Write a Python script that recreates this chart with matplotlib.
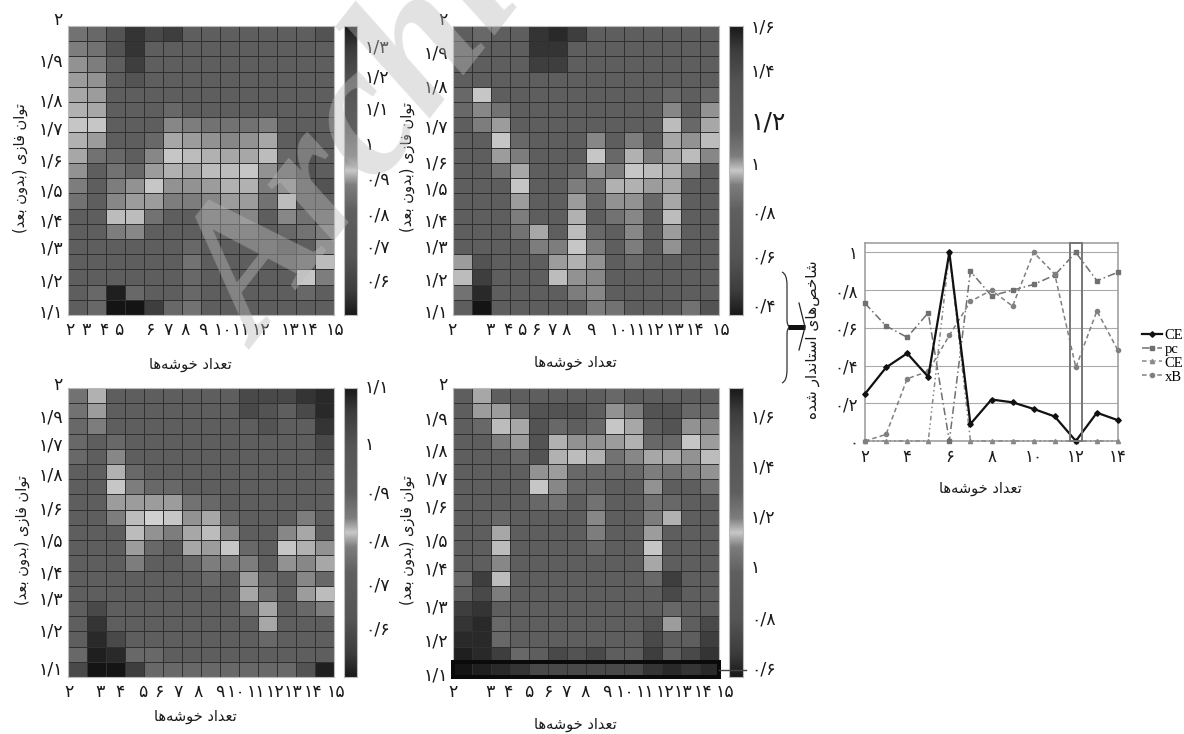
import numpy as np
import matplotlib
matplotlib.use('Agg')
import matplotlib.pyplot as plt
from matplotlib.colors import LinearSegmentedColormap
from matplotlib.lines import Line2D
from matplotlib.patches import PathPatch, Rectangle
from matplotlib.path import Path

W, H = 1184, 734

# cell shades (gray level / 10), top row first
shades_a = [
    [11, 10, 8, 5, 7, 6, 9, 9, 9, 9, 9, 9, 9, 8],
    [12, 11, 8, 5, 9, 9, 9, 9, 9, 9, 9, 9, 9, 9],
    [14, 12, 9, 6, 9, 9, 9, 9, 9, 9, 9, 9, 9, 9],
    [15, 14, 9, 8, 9, 9, 9, 9, 9, 9, 9, 9, 9, 9],
    [16, 15, 9, 9, 9, 9, 9, 9, 9, 9, 9, 9, 9, 9],
    [17, 16, 9, 9, 9, 10, 9, 9, 9, 9, 9, 9, 9, 9],
    [19, 19, 9, 9, 9, 13, 12, 11, 11, 11, 12, 9, 9, 9],
    [17, 15, 9, 9, 10, 16, 15, 14, 13, 14, 16, 9, 8, 9],
    [16, 11, 10, 9, 13, 19, 18, 17, 16, 16, 18, 10, 8, 9],
    [14, 9, 11, 10, 15, 17, 16, 18, 18, 19, 14, 10, 8, 9],
    [12, 9, 12, 14, 19, 14, 14, 15, 17, 17, 12, 14, 9, 8],
    [11, 9, 13, 15, 15, 12, 12, 13, 15, 15, 11, 18, 9, 9],
    [9, 9, 18, 18, 11, 9, 9, 11, 11, 13, 9, 13, 11, 10],
    [9, 9, 12, 13, 9, 9, 9, 10, 10, 10, 9, 10, 11, 12],
    [9, 9, 9, 9, 9, 9, 10, 9, 9, 9, 9, 8, 9, 14],
    [9, 9, 9, 9, 9, 9, 11, 9, 9, 9, 9, 9, 10, 18],
    [9, 9, 9, 9, 9, 9, 10, 9, 9, 9, 9, 9, 19, 12],
    [9, 10, 3, 10, 9, 9, 10, 9, 9, 9, 9, 9, 10, 9],
    [9, 10, 2, 2, 6, 10, 11, 9, 9, 9, 9, 9, 9, 9],
]
shades_b = [
    [9, 10, 9, 9, 5, 4, 6, 9, 9, 9, 9, 9, 9, 9],
    [9, 9, 9, 9, 5, 5, 9, 9, 9, 9, 9, 9, 9, 9],
    [9, 9, 9, 9, 6, 6, 9, 9, 9, 9, 9, 9, 9, 9],
    [9, 9, 9, 9, 9, 9, 9, 9, 9, 9, 9, 9, 9, 9],
    [10, 19, 9, 9, 9, 9, 9, 9, 9, 9, 9, 10, 9, 10],
    [10, 13, 11, 9, 9, 9, 9, 9, 9, 9, 9, 13, 9, 14],
    [9, 12, 15, 9, 9, 9, 9, 9, 9, 9, 9, 18, 10, 16],
    [9, 9, 19, 10, 9, 9, 9, 13, 9, 12, 9, 16, 14, 18],
    [9, 9, 15, 12, 9, 9, 9, 19, 10, 17, 12, 16, 18, 13],
    [9, 9, 11, 16, 9, 9, 10, 14, 12, 19, 18, 17, 12, 9],
    [9, 9, 9, 19, 9, 9, 12, 11, 17, 17, 15, 16, 9, 9],
    [9, 9, 9, 15, 9, 9, 15, 10, 14, 14, 10, 16, 9, 9],
    [9, 9, 9, 12, 9, 9, 17, 9, 11, 13, 9, 18, 9, 9],
    [9, 9, 9, 11, 16, 9, 18, 10, 9, 13, 9, 15, 9, 9],
    [9, 9, 9, 9, 12, 12, 19, 12, 9, 12, 9, 14, 9, 9],
    [15, 8, 9, 9, 9, 15, 17, 14, 9, 10, 9, 9, 9, 9],
    [18, 6, 9, 9, 9, 18, 14, 13, 9, 9, 9, 9, 9, 9],
    [11, 4, 9, 9, 9, 9, 12, 13, 9, 9, 9, 9, 9, 9],
    [9, 2, 9, 9, 9, 9, 9, 12, 11, 9, 9, 9, 11, 8],
]
shades_c = [
    [11, 17, 9, 9, 9, 9, 9, 9, 9, 7, 7, 7, 5, 4],
    [11, 15, 9, 9, 9, 9, 9, 9, 9, 7, 8, 9, 7, 4],
    [10, 12, 9, 9, 9, 9, 9, 9, 9, 9, 8, 9, 9, 5],
    [10, 9, 10, 9, 9, 9, 9, 9, 9, 9, 9, 9, 9, 7],
    [10, 9, 13, 9, 9, 9, 9, 9, 9, 9, 9, 9, 9, 8],
    [9, 9, 17, 10, 9, 9, 9, 9, 9, 9, 9, 9, 9, 9],
    [9, 9, 19, 12, 10, 10, 9, 9, 9, 9, 9, 9, 9, 9],
    [9, 9, 15, 15, 15, 15, 11, 10, 9, 9, 9, 9, 9, 9],
    [9, 9, 12, 18, 20, 19, 14, 16, 10, 9, 9, 9, 12, 9],
    [9, 9, 9, 18, 14, 12, 16, 18, 13, 9, 9, 13, 16, 9],
    [9, 9, 9, 15, 10, 9, 16, 15, 19, 10, 9, 19, 17, 14],
    [9, 9, 9, 12, 9, 9, 10, 12, 12, 12, 9, 14, 13, 16],
    [9, 9, 9, 9, 9, 9, 9, 10, 9, 15, 10, 9, 13, 10],
    [9, 9, 9, 9, 9, 9, 9, 9, 9, 16, 11, 9, 15, 18],
    [9, 7, 9, 9, 9, 9, 9, 9, 9, 11, 16, 9, 10, 12],
    [9, 5, 9, 9, 9, 9, 9, 9, 9, 9, 16, 9, 9, 9],
    [9, 4, 7, 9, 9, 9, 9, 9, 9, 9, 10, 9, 9, 9],
    [10, 3, 4, 10, 10, 9, 9, 9, 9, 9, 9, 9, 9, 9],
    [7, 2, 2, 6, 10, 10, 10, 10, 10, 10, 10, 10, 8, 3],
]
shades_d = [
    [9, 16, 9, 9, 9, 9, 9, 9, 10, 9, 9, 9, 9, 9],
    [9, 15, 15, 10, 8, 8, 8, 9, 14, 12, 8, 8, 10, 10],
    [9, 10, 18, 16, 8, 10, 9, 10, 19, 16, 9, 8, 14, 13],
    [9, 9, 12, 15, 8, 17, 14, 14, 15, 17, 10, 10, 19, 15],
    [9, 9, 9, 10, 8, 17, 18, 17, 11, 13, 16, 16, 14, 18],
    [9, 9, 9, 9, 14, 15, 10, 10, 10, 10, 12, 11, 12, 14],
    [9, 9, 9, 9, 19, 13, 10, 10, 9, 9, 14, 9, 9, 11],
    [9, 9, 9, 9, 10, 11, 9, 11, 9, 9, 11, 10, 9, 9],
    [9, 9, 10, 9, 9, 9, 9, 13, 9, 9, 12, 17, 9, 9],
    [9, 9, 16, 9, 9, 9, 9, 12, 9, 9, 15, 9, 9, 9],
    [9, 9, 18, 9, 9, 9, 9, 10, 9, 9, 19, 9, 9, 9],
    [9, 9, 13, 9, 9, 9, 9, 9, 9, 9, 16, 9, 9, 9],
    [10, 6, 18, 9, 9, 9, 9, 9, 9, 9, 10, 6, 9, 9],
    [9, 7, 12, 9, 9, 9, 9, 9, 9, 9, 9, 7, 9, 9],
    [6, 5, 9, 9, 9, 9, 9, 9, 9, 9, 9, 10, 9, 9],
    [5, 4, 10, 9, 9, 9, 9, 9, 9, 9, 8, 15, 9, 7],
    [4, 4, 10, 9, 9, 9, 9, 9, 9, 9, 7, 9, 9, 6],
    [3, 4, 6, 10, 9, 7, 8, 7, 9, 9, 6, 9, 7, 5],
    [2, 3, 4, 5, 7, 7, 7, 7, 7, 7, 5, 4, 5, 4],
]

cluster_labels = ['۲', '۳', '۴', '۵', '۶', '۷', '۸', '۹', '۱۰', '۱۱', '۱۲', '۱۳', '۱۴', '۱۵']
y_labels_a = ['۲', '۱/۹', '۱/۸', '۱/۷', '۱/۶', '۱/۵', '۱/۴', '۱/۳', '۱/۲', '۱/۱']
y_labels_c = ['۲', '۱/۹', '۱/۷', '۱/۸', '۱/۶', '۱/۵', '۱/۴', '۱/۳', '۱/۲', '۱/۱']

cbar_labels_a = ['۱/۳', '۱/۲', '۱/۱', '۱', '۰/۹', '۰/۸', '۰/۷', '۰/۶']
cbar_labels_b = ['۱/۶', '۱/۴', '۱/۲', '۱', '۰/۸', '۰/۶', '۰/۴']
cbar_labels_c = ['۱/۱', '۱', '۰/۹', '۰/۸', '۰/۷', '۰/۶']
cbar_labels_d = ['۱/۶', '۱/۴', '۱/۲', '۱', '۰/۸', '۰/۶']

cbar_stops = [0, .08, .2, .36, .45, .5, .55, .64, .8, .92, 1]
cbar_grays = [25, 60, 85, 95, 125, 200, 125, 95, 85, 60, 25]

k_values = [2, 3, 4, 5, 6, 7, 8, 9, 10, 11, 12, 13, 14]
ce_values = [.25, .39, .465, .34, 1, .09, .22, .205, .17, .13, 0, .15, .11]
pc_values = [.73, .61, .55, .68, 0, .90, .77, .80, .83, .88, 1, .85, .895]
ce2_values = [0, 0, 0, 0, 1, 0, 0, 0, 0, 0, 0, 0, 0]
xb_values = [0, .035, .33, .37, .56, .74, .80, .715, 1, .885, .39, .69, .48]

JOIN_FORMS = {
    'ا': (0xFE8D, 0xFE8E), 'د': (0xFEA9, 0xFEAA), 'ر': (0xFEAD, 0xFEAE),
    'ز': (0xFEAF, 0xFEB0), 'و': (0xFEED, 0xFEEE),
    'ب': (0xFE8F, 0xFE90, 0xFE91, 0xFE92), 'ت': (0xFE95, 0xFE96, 0xFE97, 0xFE98),
    'خ': (0xFEA5, 0xFEA6, 0xFEA7, 0xFEA8), 'س': (0xFEB1, 0xFEB2, 0xFEB3, 0xFEB4),
    'ش': (0xFEB5, 0xFEB6, 0xFEB7, 0xFEB8), 'ص': (0xFEB9, 0xFEBA, 0xFEBB, 0xFEBC),
    'ع': (0xFEC9, 0xFECA, 0xFECB, 0xFECC), 'ف': (0xFED1, 0xFED2, 0xFED3, 0xFED4),
    'ن': (0xFEE5, 0xFEE6, 0xFEE7, 0xFEE8), 'ه': (0xFEE9, 0xFEEA, 0xFEEB, 0xFEEC),
    'ی': (0xFBFC, 0xFBFD, 0xFBFE, 0xFBFF),
}
MIRROR = {'(': ')', ')': '('}


def fa(text):
    # matplotlib has no shaping, so build the visual order by hand
    out = []
    for i, ch in enumerate(text):
        if ch == '\u200c':
            continue
        if ch not in JOIN_FORMS:
            out.append(MIRROR.get(ch, ch))
            continue
        forms = JOIN_FORMS[ch]
        prev = text[i - 1] if i > 0 else ''
        nxt = text[i + 1] if i + 1 < len(text) else ''
        after_joiner = prev in JOIN_FORMS and len(JOIN_FORMS[prev]) == 4
        before_letter = nxt in JOIN_FORMS and len(forms) == 4
        if after_joiner and before_letter:
            code = forms[3]
        elif before_letter:
            code = forms[2]
        elif after_joiner:
            code = forms[1]
        else:
            code = forms[0]
        out.append(chr(code))
    return ''.join(reversed(out))


def fx(x):
    return x / W


def fy(y):
    return 1 - y / H


def add_px_axes(x0, y0, x1, y1):
    return fig.add_axes([fx(x0), fy(y1), (x1 - x0) / W, (y1 - y0) / H])


def px_text(x, y, s, **kw):
    kw.setdefault('ha', 'center')
    kw.setdefault('va', 'center')
    kw.setdefault('color', '#1a1a1a')
    fig.text(fx(x), fy(y), s, **kw)


def heat_panel(x0, y0, x1, y1, cx0, cx1, shades, xpos, y_labels, ypos, cb_labels, cb_pos, big_tick=None):
    ax = add_px_axes(x0, y0, x1, y1)
    ax.pcolormesh(np.array(shades), cmap='gray', vmin=0, vmax=24.5,
                  edgecolors='#303030', linewidth=0.6)
    ax.set_xlim(0, 14)
    ax.set_ylim(19, 0)
    ax.set_xticks([])
    ax.set_yticks([])
    for s in ax.spines.values():
        s.set_color('#bbbbbb')
        s.set_linewidth(0.8)
    for p, lab in zip(xpos, cluster_labels):
        px_text(x0 + p / 3, y1 + 15, lab, fontsize=12.5)
    for p, lab in zip(ypos, y_labels):
        px_text(x0 - 5, p, lab, fontsize=12.5, ha='right')

    cax = add_px_axes(cx0, y0, cx1, y1)
    grad = LinearSegmentedColormap.from_list(
        'bar', [(s, (g / 255, g / 255, g / 255)) for s, g in zip(cbar_stops, cbar_grays)])
    cax.imshow(np.linspace(0, 1, 256)[:, None], cmap=grad, aspect='auto', extent=(0, 1, 1, 0))
    cax.set_xticks([])
    cax.set_yticks([])
    for s in cax.spines.values():
        s.set_color('#bbbbbb')
    for p, lab in zip(cb_pos, cb_labels):
        size = 18 if lab == big_tick else 12.5
        px_text(cx1 + 8, p, lab, fontsize=size, ha='left')
    return ax


fig = plt.figure(figsize=(W / 100, H / 100), dpi=100)

xpos_a = [7, 55, 107, 153, 245, 300, 350, 403, 465, 520, 580, 665, 723, 800]
xpos_b = [-2, 110, 165, 205, 248, 297, 340, 413, 497, 552, 607, 667, 727, 805]
xpos_c = [3, 97, 155, 223, 273, 330, 390, 455, 505, 565, 620, 675, 735, 805]
xpos_d = [0, 112, 165, 228, 285, 340, 395, 460, 515, 575, 635, 690, 750, 815]

y_px_a = [20, 62, 101, 129, 161, 192, 222, 249, 282, 312]
y_px_b = [20, 53, 87, 127, 163, 190, 221, 248, 281, 312]
y_px_c = [385, 417, 445, 476, 509, 542, 573, 600, 632, 670]
y_px_d = [385, 419, 452, 480, 508, 541, 570, 608, 642, 675]

cb_a = [48, 78, 110, 145, 180, 215, 247, 282]
cb_b = [27, 72, 122, 165, 213, 258, 306]
cb_c = [388, 445, 493, 541, 585, 630]
cb_d = [417, 468, 517, 568, 620, 670]

heat_panel(68, 26, 334, 315, 344, 357, shades_a, xpos_a, y_labels_a, y_px_a, cbar_labels_a, cb_a)
heat_panel(453, 26, 719, 315, 729, 743, shades_b, xpos_b, y_labels_a, y_px_b, cbar_labels_b, cb_b, big_tick='۱/۲')
heat_panel(68, 388, 334, 677, 344, 357, shades_c, xpos_c, y_labels_c, y_px_c, cbar_labels_c, cb_c)
ax_d = heat_panel(453, 388, 719, 677, 729, 743, shades_d, xpos_d, y_labels_a, y_px_d, cbar_labels_d, cb_d)

# black frame round the bottom row of the last map
ax_d.add_patch(Rectangle((0, 18), 14, 1, fill=False, edgecolor='#0a0a0a', linewidth=2.9, clip_on=False, zorder=5))
fig.add_artist(Line2D([fx(719), fx(746)], [fy(669.5), fy(669.5)], color='#444444', linewidth=1))

x_title = fa('تعداد خوشه‌ها')
y_title = fa('توان فازی (بدون بعد)')
for (x, y) in [(190, 364), (575, 363), (195, 716), (575, 725)]:
    px_text(x, y, x_title, fontsize=10.5)
for (x, y) in [(20, 168), (407, 167), (22, 540), (407, 540)]:
    px_text(x, y, y_title, fontsize=10.5, rotation=90)

# index chart
ax = add_px_axes(865, 243, 1118, 441)
ax.plot(k_values, pc_values, color='#707070', linestyle=(0, (5, 2, 1, 2)), linewidth=1.1,
        marker='s', markersize=3.5, label='pc', zorder=3, clip_on=False)
ax.plot(k_values, ce2_values, color='#888888', linestyle=(0, (3, 2, 1, 2, 1, 2)), linewidth=1.1,
        marker='^', markersize=3, label='CE', zorder=3, clip_on=False)
ax.plot(k_values, xb_values, color='#808080', linestyle=(0, (3, 2)), linewidth=1.1,
        marker='o', markersize=3, label='xB', zorder=3, clip_on=False)
ax.plot(k_values, ce_values, color='#111111', linewidth=1.6, marker='D', markersize=2.8,
        label='CE', zorder=4, clip_on=False)
ax.add_patch(Rectangle((11.72, 0), 0.57, 1.05, fill=False, edgecolor='#777777', linewidth=1.4, clip_on=False, zorder=5))
ax.set_xlim(2, 14)
ax.set_ylim(0, 1.05)
ax.set_xticks([2, 4, 6, 8, 10, 12, 14])
ax.set_xticklabels(['۲', '۴', '۶', '۸', '۱۰', '۱۲', '۱۴'], fontsize=12, color='#1a1a1a')
ax.set_yticks([0, .2, .4, .6, .8, 1])
ax.set_yticklabels(['۰', '۰/۲', '۰/۴', '۰/۶', '۰/۸', '۱'], fontsize=12, color='#1a1a1a')
ax.tick_params(length=0, pad=5)
ax.grid(axis='y', color='#aaaaaa', linewidth=0.8)
ax.grid(axis='x', visible=False)
for s in ax.spines.values():
    s.set_color('#999999')
    s.set_linewidth(1.1)

handles, labels = ax.get_legend_handles_labels()
order = [3, 0, 1, 2]
fig.legend([handles[i] for i in order], [labels[i] for i in order], loc='center left',
           bbox_to_anchor=(fx(1142), fy(356)), frameon=False, handlelength=1.4, handletextpad=0.15,
           labelspacing=0.05, prop={'family': 'Liberation Serif', 'size': 10.5}, borderpad=0,
           borderaxespad=0)

px_text(980, 488, x_title, fontsize=10.5)
px_text(813, 340, fa('شاخص‌های استاندار شده'), fontsize=11, rotation=90)

# brace and arrow pointing from the maps to the index chart
brace = Path([(fx(782), fy(272)), (fx(787), fy(274)), (fx(787), fy(285)), (fx(787), fy(320)),
              (fx(787), fy(326)), (fx(790), fy(327)), (fx(787), fy(328)), (fx(787), fy(334)),
              (fx(787), fy(370)), (fx(787), fy(381)), (fx(782), fy(383))],
             [Path.MOVETO, Path.CURVE3, Path.CURVE3, Path.LINETO, Path.CURVE3, Path.CURVE3,
              Path.CURVE3, Path.CURVE3, Path.LINETO, Path.CURVE3, Path.CURVE3])
fig.add_artist(PathPatch(brace, fill=False, edgecolor='#333333', linewidth=0.9, transform=fig.transFigure))
fig.add_artist(Line2D([fx(788), fx(805)], [fy(327), fy(327)], color='#111111', linewidth=3.6, solid_capstyle='butt'))
fig.add_artist(Line2D([fx(799), fx(805), fx(799)], [fy(303), fy(327), fy(350)], color='#222222', linewidth=0.9))

# site watermark across the upper left maps
fig.text(fx(259), fy(350), 'Archive', rotation=52, rotation_mode='anchor', ha='left', va='baseline',
         fontsize=135, family='Liberation Serif', style='italic', weight='bold',
         color='#bababa', alpha=0.42, zorder=10)

fig.savefig('out.png', dpi=100)
